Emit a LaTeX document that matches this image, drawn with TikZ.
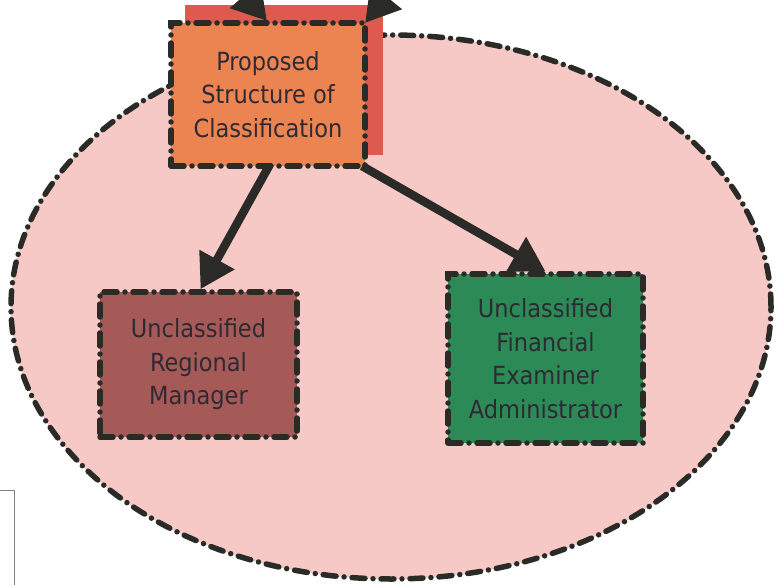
\documentclass[tikz,border=0pt]{standalone}
\usepackage{fontspec}
\setmainfont{DejaVu Sans Condensed}
\usetikzlibrary{arrows.meta,shapes.geometric,calc}
\definecolor{ellfill}{HTML}{F7C9C6}
\definecolor{orangefill}{HTML}{EC8452}
\definecolor{redback}{HTML}{DE5A4E}
\definecolor{brownfill}{HTML}{A65A57}
\definecolor{greenfill}{HTML}{2C8A56}
\definecolor{inkc}{HTML}{2A2A26}
\definecolor{txtc}{HTML}{2E2A34}
\tikzset{
  dashdot/.style={draw=inkc, line width=5.5pt, line cap=round,
    dash pattern=on 13pt off 8pt on 0pt off 8pt},
  box/.style={dashdot, rectangle, align=center, text=txtc,
    font=\fontsize{25}{33.5}\selectfont, inner sep=0pt},
  bigarrow/.style={draw=inkc, line width=8.5pt,
    -{Triangle[width=38pt,length=34pt]}},
}
\begin{document}
\begin{tikzpicture}[x=1pt,y=-1pt]
\useasboundingbox (0,0) rectangle (775,585);
\begin{scope}
\clip (0,0) rectangle (775,585);
% ellipse
\node[dashdot, fill=ellfill, ellipse, minimum width=760pt, minimum height=544pt, inner sep=0pt] (ell) at (391,307) {};
% partial box bottom-left
\coordinate (pbA) at (-5,490);
\coordinate (pbB) at (14,490);
\coordinate (pbC) at (14,590);
\draw[gray, line width=0.8pt] (pbA) -- (pbB) -- (pbC);
% red back
\node[fill=redback, minimum width=198pt, minimum height=150pt, inner sep=0pt] (back) at (284,80) {};
% boxes
\node[box, fill=orangefill, minimum width=194pt, minimum height=143pt] (prop) at (268,94.5) {Proposed\\Structure of\\Classification};
\node[box, fill=brownfill, minimum width=197pt, minimum height=145pt] (brown) at (198.5,364.5) {Unclassified\\Regional\\Manager};
\node[box, fill=greenfill, minimum width=195pt, minimum height=169pt] (green) at (545.5,358.5) {Unclassified\\Financial\\Examiner\\Administrator};
% incoming arrows from above (off picture)
\coordinate (inA) at (190,-70);
\coordinate (inB) at (440,-70);
\coordinate (tipA) at (267,21);
\coordinate (tipB) at (365,23);
\draw[bigarrow] (inA) -- (tipA);
\draw[bigarrow] (inB) -- (tipB);
% outgoing arrows
\coordinate (outA) at (269,166);
\coordinate (outB) at (362,166);
\draw[bigarrow] (outA) -- ($(brown.north)+(2,0)$);
\draw[bigarrow] (outB) -- ($(green.north)+(0,0)$);
\end{scope}
\end{tikzpicture}
\end{document}
